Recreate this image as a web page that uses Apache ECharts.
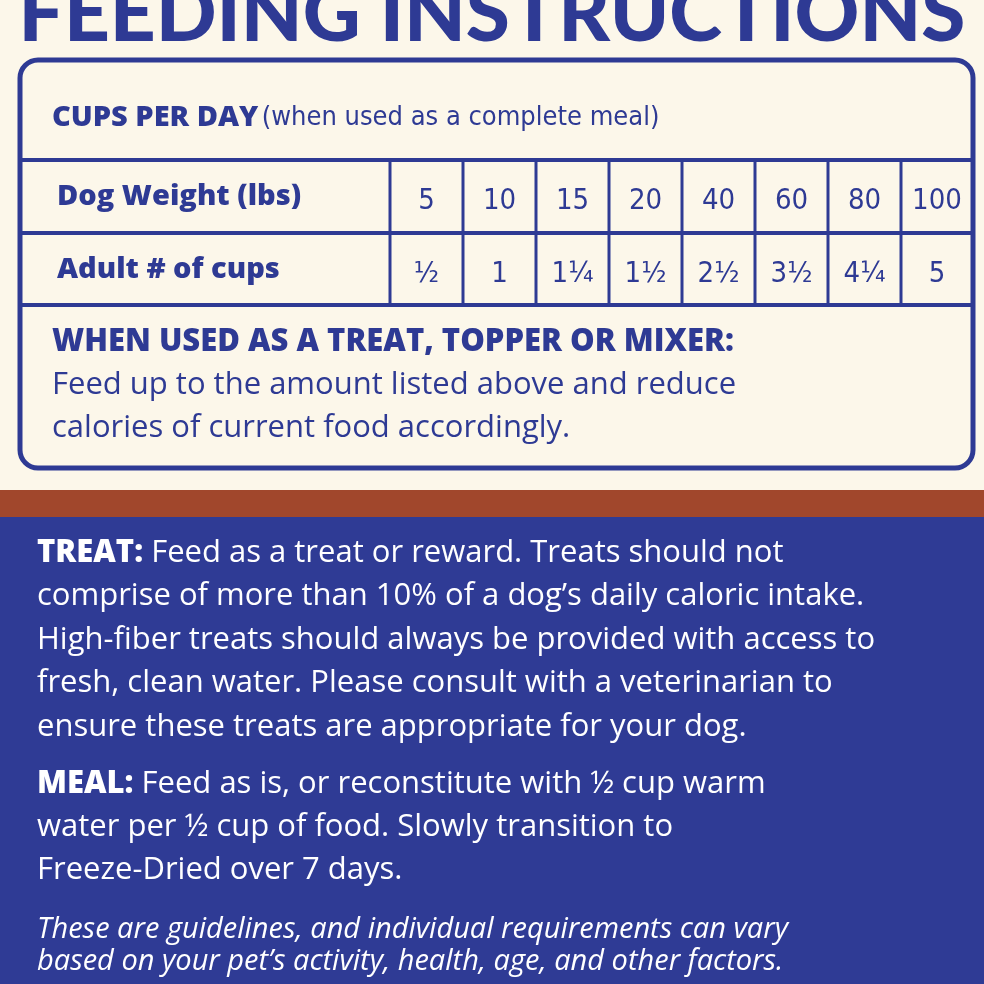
<!DOCTYPE html>
<html><head><meta charset="utf-8">
<script src="https://cdn.jsdelivr.net/npm/echarts@6/dist/echarts.min.js"></script>
<style>html,body{margin:0;padding:0;}#c{width:984px;height:984px;}</style></head>
<body><div id="c"></div>
<script>
const title = "FEEDING INSTRUCTIONS";
const weights = ["5","10","15","20","40","60","80","100"];
const cups = ["½","1","1¼","1½","2½","3½","4¼","5"];
const rowLabels = ["Dog Weight (lbs)","Adult # of cups"];
const treatLines = [
 ["TREAT:"," Feed as a treat or reward. Treats should not"],
 ["","comprise of more than 10% of a dog’s daily caloric intake."],
 ["","High-fiber treats should always be provided with access to"],
 ["","fresh, clean water. Please consult with a veterinarian to"],
 ["","ensure these treats are appropriate for your dog."]];
const mealLines = [
 ["MEAL:"," Feed as is, or reconstitute with ½ cup warm"],
 ["","water per ½ cup of food. Slowly transition to"],
 ["","Freeze-Dried over 7 days."]];
const noteLines = ["These are guidelines, and individual requirements can vary","based on your pet’s activity, health, age, and other factors."];
const mixerLines = ["Feed up to the amount listed above and reduce","calories of current food accordingly."];

const BLUE = '#2e3a94', CREAM = '#fcf7ea', FONT = '"Open Sans", Lato, sans-serif', TFONT='Lato, sans-serif';
const NARROW = '"Liberation Sans Narrow","DejaVu Sans Condensed",sans-serif';
const g = [];
g.push({type:'rect',shape:{x:0,y:0,width:984,height:490},style:{fill:CREAM}});
g.push({type:'rect',shape:{x:0,y:490,width:984,height:27},style:{fill:'#a1472c'}});
g.push({type:'rect',shape:{x:0,y:517,width:984,height:467},style:{fill:'#2f3b95'}});
g.push({type:'text',x:492,y:55,style:{text:title,fill:BLUE,font:'900 80px '+TFONT,align:'center',verticalAlign:'bottom'}});
g.push({type:'rect',shape:{x:20,y:60,width:953,height:408,r:18},style:{fill:CREAM,stroke:BLUE,lineWidth:5}});
g.push({type:'text',x:52,y:118,style:{rich:{b:{font:'800 29px '+FONT,fill:BLUE},n:{font:'27px '+NARROW,fill:BLUE}},text:'{b|CUPS PER DAY} {n|(when used as a complete meal)}',verticalAlign:'middle'}});
[160,233,305].forEach(y=>g.push({type:'line',shape:{x1:20,y1:y,x2:973,y2:y},style:{stroke:BLUE,lineWidth:4}}));
const xs=[390,463,536,609,682,755,828,901,973];
xs.slice(0,8).forEach(x=>g.push({type:'line',shape:{x1:x,y1:160,x2:x,y2:305},style:{stroke:BLUE,lineWidth:3}}));
[[rowLabels[0],weights,197],[rowLabels[1],cups,270]].forEach(([lab,vals,y])=>{
  g.push({type:'text',x:57,y:y,style:{text:lab,fill:BLUE,font:'800 29px '+FONT,verticalAlign:'middle'}});
  vals.forEach((v,i)=>g.push({type:'text',x:(xs[i]+xs[i+1])/2,y:y+4,style:{text:v,fill:BLUE,font:'29px '+NARROW,align:'center',verticalAlign:'middle'}}));
});
g.push({type:'text',x:52,y:342,style:{text:'WHEN USED AS A TREAT, TOPPER OR MIXER:',fill:BLUE,font:'800 31px '+FONT,verticalAlign:'middle'}});
mixerLines.forEach((t,i)=>g.push({type:'text',x:52,y:385+i*43,style:{text:t,fill:BLUE,font:'31px '+FONT,verticalAlign:'middle'}}));
const rich={b:{font:'800 31px '+FONT,fill:'#fff'},n:{font:'31px '+FONT,fill:'#fff'}};
treatLines.forEach((l,i)=>g.push({type:'text',x:37,y:553+i*43.5,style:{rich,text:(l[0]?'{b|'+l[0]+'}':'')+'{n|'+l[1]+'}',verticalAlign:'middle'}}));
mealLines.forEach((l,i)=>g.push({type:'text',x:37,y:784+i*43,style:{rich,text:(l[0]?'{b|'+l[0]+'}':'')+'{n|'+l[1]+'}',verticalAlign:'middle'}}));
noteLines.forEach((t,i)=>g.push({type:'text',x:37,y:930+i*32,style:{text:t,fill:'#fff',font:'italic 29px '+FONT,verticalAlign:'middle'}}));
const chart = echarts.init(document.getElementById('c'));
chart.setOption({animation:false,graphic:g});
</script></body></html>
